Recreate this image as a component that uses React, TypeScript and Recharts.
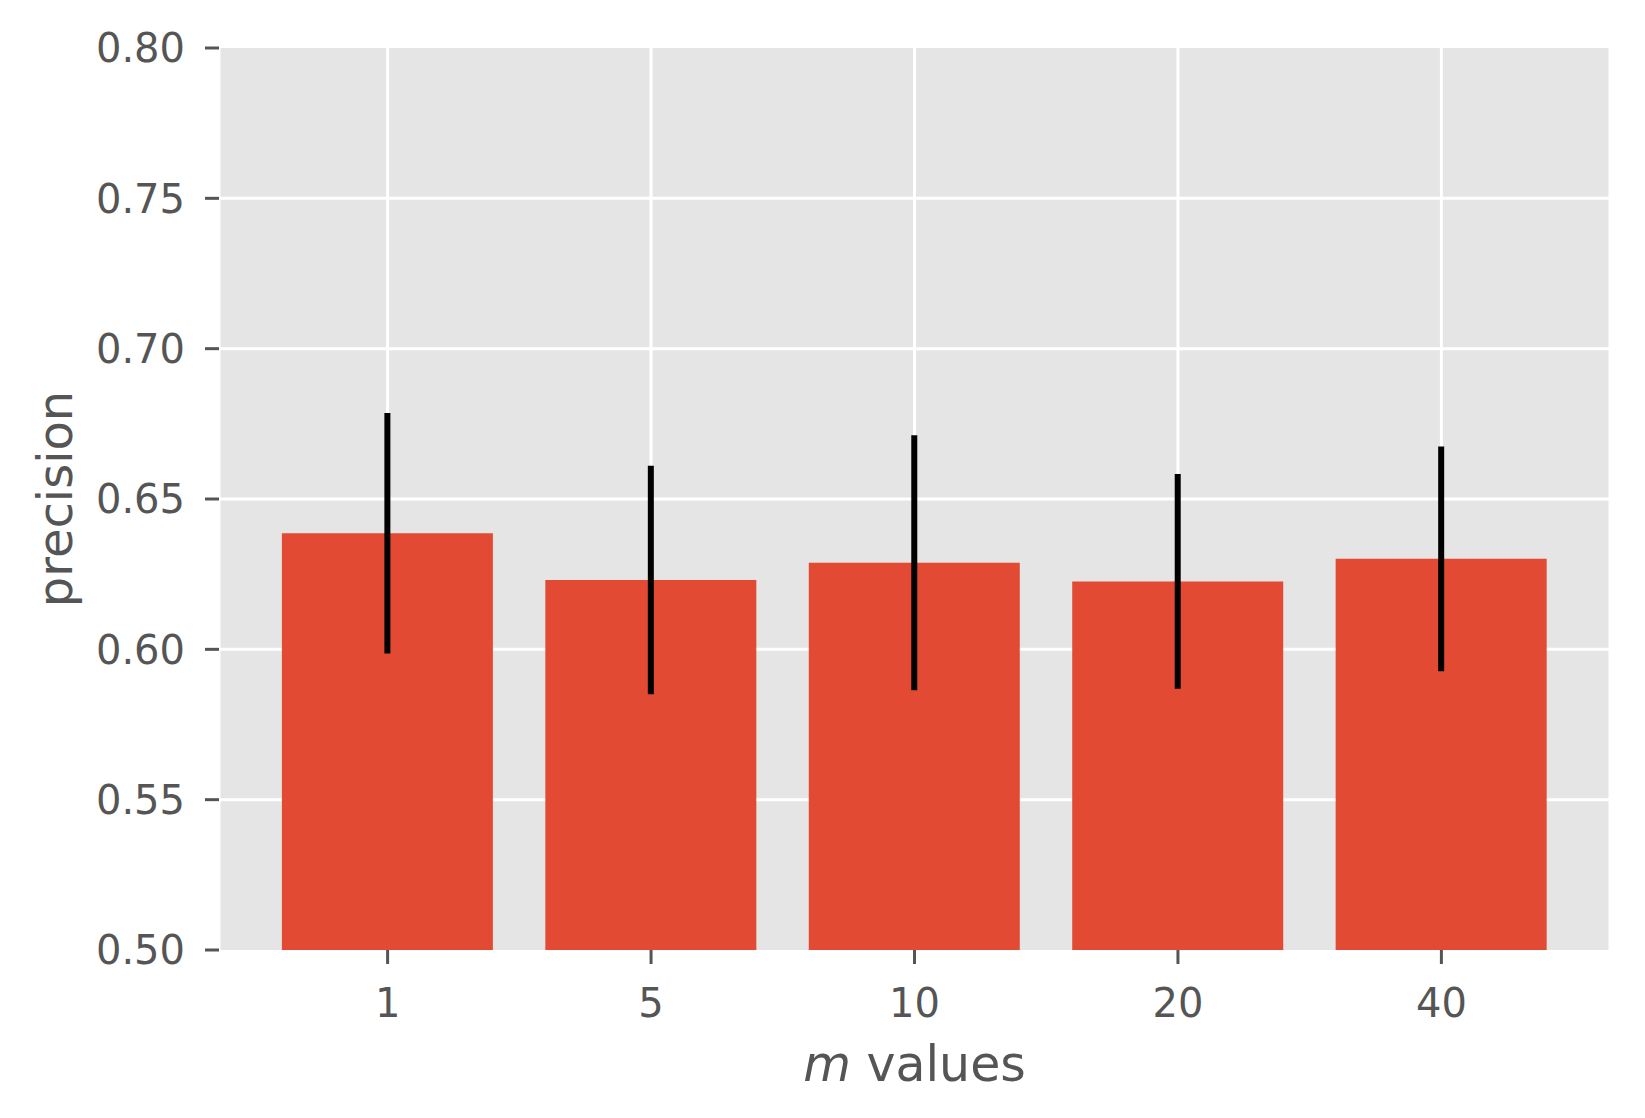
import React from 'react';
import { BarChart, Bar, XAxis, YAxis, CartesianGrid, ErrorBar } from 'recharts';

const mValues = ['1', '5', '10', '20', '40'];
const precision = [0.6386, 0.6231, 0.6288, 0.6226, 0.6301];
const precisionErr = [0.04, 0.038, 0.0424, 0.0357, 0.0374];
const yTicks = [0.5, 0.55, 0.6, 0.65, 0.7, 0.75, 0.8];
const yDomain = [0.5, 0.8];
const xTicks = mValues.map((_, i) => i);

const TEXT = '#555555';
const FONT = '"DejaVu Sans", sans-serif';

const data = mValues.map((m, i) => ({
  idx: i,
  m,
  precision: precision[i],
  err: precisionErr[i],
}));

function XLabel({ viewBox }: any) {
  const x = viewBox.x + viewBox.width / 2;
  const y = viewBox.y + 131;
  return (
    <text x={x} y={y} textAnchor="middle" fill={TEXT} fontSize={49} fontFamily={FONT}>
      <tspan fontStyle="italic">m</tspan>
      <tspan> values</tspan>
    </text>
  );
}

function YLabel({ viewBox }: any) {
  const x = 72;
  const y = viewBox.y + viewBox.height / 2;
  return (
    <text
      x={x}
      y={y}
      textAnchor="middle"
      fill={TEXT}
      fontSize={48}
      fontFamily={FONT}
      transform={`rotate(-90, ${x}, ${y})`}
    >
      precision
    </text>
  );
}

// inner grid lines only, no white line on the plot edges
const innerHorizontal = ({ offset }: any) =>
  yTicks
    .slice(1, -1)
    .map((v) => offset.top + (offset.height * (yDomain[1] - v)) / (yDomain[1] - yDomain[0]));

export default function App() {
  return (
    <div style={{ position: 'absolute', left: 0, top: 0, width: 1645, height: 1118, background: '#fff' }}>
      <BarChart
        width={1645}
        height={1118}
        data={data}
        margin={{ top: 48, right: 35, bottom: 0, left: 0 }}
      >
        <CartesianGrid
          fill="#E5E5E5"
          stroke="#ffffff"
          strokeWidth={3}
          horizontalCoordinatesGenerator={innerHorizontal}
        />
        <XAxis
          type="number"
          dataKey="idx"
          domain={[-0.64, 4.64]}
          ticks={xTicks}
          tickFormatter={(i: number) => mValues[i]}
          interval={0}
          height={168}
          axisLine={false}
          tickSize={14}
          tickMargin={25}
          tickLine={{ stroke: TEXT, strokeWidth: 3 }}
          tick={{ fill: TEXT, fontSize: 40, fontFamily: FONT }}
          label={<XLabel />}
        />
        <YAxis
          type="number"
          domain={yDomain}
          ticks={yTicks}
          allowDataOverflow
          tickFormatter={(v: number) => v.toFixed(2)}
          width={219}
          axisLine={false}
          tickSize={14}
          tickMargin={20}
          tickLine={{ stroke: TEXT, strokeWidth: 3 }}
          tick={{ fill: TEXT, fontSize: 40, fontFamily: FONT }}
          label={<YLabel />}
        />
        <Bar dataKey="precision" fill="#E24A33" barSize={211} isAnimationActive={false}>
          <ErrorBar
            dataKey="err"
            direction="y"
            width={0}
            stroke="#000000"
            strokeWidth={6}
            isAnimationActive={false}
          />
        </Bar>
      </BarChart>
    </div>
  );
}
